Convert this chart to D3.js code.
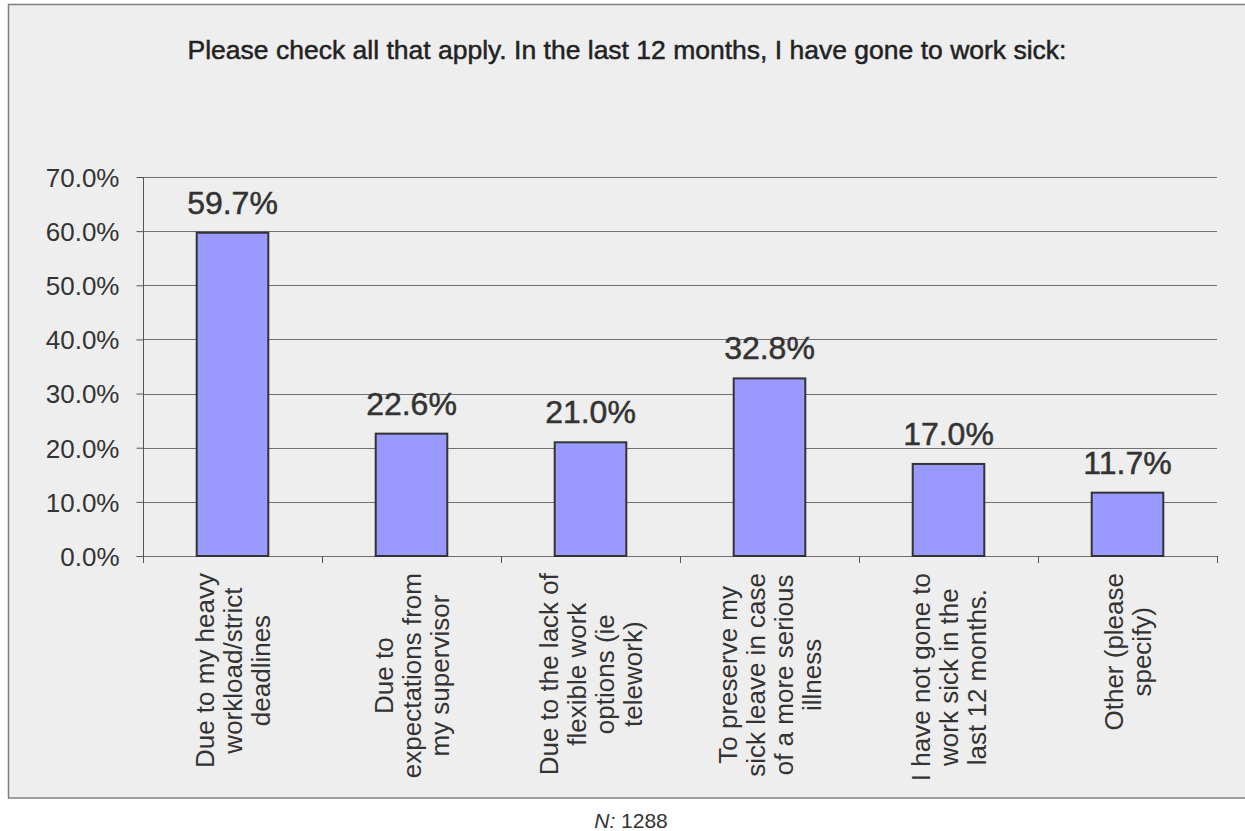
<!DOCTYPE html>
<html>
<head>
<meta charset="utf-8">
<script src="https://cdn.jsdelivr.net/npm/d3@7"></script>
<style>
  html, body { margin: 0; padding: 0; background: #ffffff; }
  svg { display: block; }
</style>
</head>
<body>
<script>
// Survey responses: reasons for going to work sick
const categories = [
  ["Due to my heavy", "workload/strict", "deadlines"],
  ["Due to", "expectations from", "my supervisor"],
  ["Due to the lack of", "flexible work", "options (ie", "telework)"],
  ["To preserve my", "sick leave in case", "of a more serious", "illness"],
  ["I have not gone to", "work sick in the", "last 12 months."],
  ["Other (please", "specify)"]
];
const values = [59.7, 22.6, 21.0, 32.8, 17.0, 11.7];
const yTicks = [0, 10, 20, 30, 40, 50, 60, 70];
const titleText = "Please check all that apply. In the last 12 months, I have gone to work sick:";
const sampleSize = "1288";

const W = 1245, H = 831;
const font = "'Liberation Sans', Arial, sans-serif";
const textColor = "#333333";

const svg = d3.select("body").append("svg")
  .attr("width", W).attr("height", H);

// chart panel
svg.append("rect")
  .attr("x", 8.5).attr("y", 4.5)
  .attr("width", 1250).attr("height", 793.5)
  .attr("fill", "#eeeeee")
  .attr("stroke", "#808080").attr("stroke-width", 1.5);

svg.append("text")
  .attr("x", 627).attr("y", 59)
  .attr("text-anchor", "middle")
  .attr("font-family", font).attr("font-size", 26.5)
  .attr("fill", "#222222")
  .attr("stroke", "#222222").attr("stroke-width", 0.5)
  .text(titleText);

const plot = { left: 143, right: 1217, top: 177, bottom: 556 };

const x = d3.scaleBand()
  .domain(d3.range(categories.length))
  .range([plot.left, plot.right])
  .paddingInner(0.6)
  .paddingOuter(0.3);

const y = d3.scaleLinear()
  .domain([0, 70])
  .range([plot.bottom, plot.top]);

// gridlines
svg.append("g")
  .selectAll("line")
  .data(yTicks)
  .join("line")
  .attr("x1", plot.left).attr("x2", plot.right)
  .attr("y1", d => Math.round(y(d)) + 0.5)
  .attr("y2", d => Math.round(y(d)) + 0.5)
  .attr("stroke", "#707070").attr("stroke-width", 1);

// y axis
const yAxis = svg.append("g")
  .attr("transform", `translate(${plot.left + 0.5},0)`)
  .call(d3.axisLeft(y).tickValues(yTicks).tickSize(7).tickPadding(17)
    .tickFormat(d => d.toFixed(1) + "%"));
yAxis.select(".domain").attr("stroke", "#555555")
  .attr("d", `M0,${plot.top}V${plot.bottom + 7}`);
yAxis.selectAll(".tick line").attr("stroke", "#555555");
yAxis.selectAll(".tick text")
  .attr("font-family", font).attr("font-size", 26)
  .attr("fill", textColor).attr("dy", "0.36em");

// category boundary ticks on the x axis
const step = x.step();
const boundaries = d3.range(categories.length + 1).map(i => plot.left + i * step);
svg.append("g")
  .selectAll("line")
  .data(boundaries)
  .join("line")
  .attr("x1", d => Math.round(d) + 0.5).attr("x2", d => Math.round(d) + 0.5)
  .attr("y1", plot.bottom).attr("y2", plot.bottom + 7)
  .attr("stroke", "#555555");

// bars
svg.append("g")
  .selectAll("rect")
  .data(values)
  .join("rect")
  .attr("x", (d, i) => x(i))
  .attr("y", d => y(d))
  .attr("width", x.bandwidth())
  .attr("height", d => y(0) - y(d))
  .attr("fill", "#9999ff")
  .attr("stroke", "#333333").attr("stroke-width", 2);

// value labels
svg.append("g")
  .selectAll("text")
  .data(values)
  .join("text")
  .attr("x", (d, i) => x(i) + x.bandwidth() / 2)
  .attr("y", d => y(d) - 19)
  .attr("text-anchor", "middle")
  .attr("font-family", font).attr("font-size", 32)
  .attr("fill", textColor)
  .attr("stroke", textColor).attr("stroke-width", 0.5)
  .text(d => d.toFixed(1) + "%");

// rotated category labels
const lineH = 28;
categories.forEach((lines, i) => {
  const cx = x(i) + x.bandwidth() / 2;
  const g = svg.append("g")
    .attr("transform", `translate(${cx},573) rotate(-90)`);
  const t = g.selectAll("text")
    .data(lines)
    .join("text")
    .attr("text-anchor", "middle")
    .attr("font-family", font).attr("font-size", 26)
    .attr("fill", textColor)
    .attr("y", (d, j) => (j - (lines.length - 1) / 2) * lineH + 9)
    .text(d => d);
  const maxLen = d3.max(t.nodes(), n => n.getComputedTextLength());
  t.attr("x", -maxLen / 2);
});

// sample size note
const note = svg.append("text")
  .attr("x", 631).attr("y", 828)
  .attr("text-anchor", "middle")
  .attr("font-family", font).attr("font-size", 21)
  .attr("fill", textColor);
note.append("tspan").attr("font-style", "italic").text("N:");
note.append("tspan").text(" " + sampleSize);
</script>
</body>
</html>
